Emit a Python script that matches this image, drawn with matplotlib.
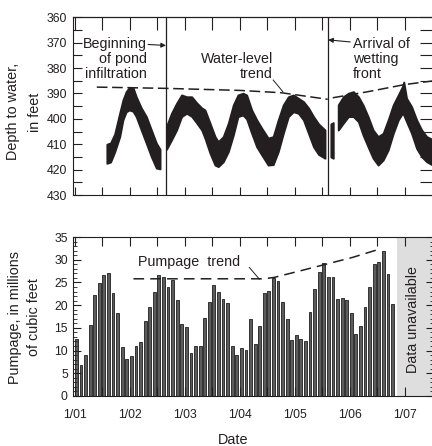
import numpy as np
import matplotlib
matplotlib.use("Agg")
import matplotlib.pyplot as plt
from matplotlib.ticker import MultipleLocator

plt.rcParams["font.family"] = ["Liberation Sans", "DejaVu Sans"]
INK = "#231f20"

# ---------------------------------------------------------------------------
# Data (x positions are months since January 2001)
# ---------------------------------------------------------------------------
pumpage_2001 = [12.6, 6.8, 9.1, 15.6, 22.3, 24.8, 26.7, 27.1, 22.6, 18.3, 10.8, 8.1]
pumpage_2002 = [8.9, 11.1, 11.9, 16.6, 19.5, 22.9, 26.7, 26.3, 23.9, 25.6, 21.1, 15.8]
pumpage_2003 = [15.2, 9.4, 11.0, 11.0, 17.2, 20.6, 24.5, 23.0, 21.4, 20.4, 10.9, 9.1]
pumpage_2004 = [10.6, 10.2, 17.0, 11.5, 15.4, 22.7, 23.1, 26.0, 25.3, 20.8, 17.0, 12.4]
pumpage_2005 = [13.5, 12.6, 12.0, 18.5, 23.6, 27.3, 29.2, 26.1, 26.1, 21.3, 21.6, 21.1]
pumpage_2006 = [18.3, 13.7, 15.4, 19.6, 24.0, 29.0, 29.5, 32.0, 26.8, 20.3]
pumpage = (pumpage_2001 + pumpage_2002 + pumpage_2003 +
           pumpage_2004 + pumpage_2005 + pumpage_2006)

# Depth-to-water record: shallow and deep edges of the daily trace
wl1_month = [7.0, 7.8, 8.7, 9.8, 10.5, 11.2, 11.9, 12.7, 13.4, 14.5, 15.6, 16.7, 17.8, 18.6]
wl1_top = [410.0, 409.5, 406.0, 397.7, 392.6, 389.3, 387.6, 387.7, 391.3, 395.7, 399.1, 404.4, 409.6, 412.0]
wl1_bottom = [417.5, 417.0, 413.0, 407.0, 400.4, 397.2, 396.5, 397.0, 399.1, 404.4, 409.6, 414.9, 419.4, 419.7]

wl2_month = [20.0, 21.1, 22.2, 23.3, 24.4, 25.5, 26.6, 27.7, 28.4, 29.5, 30.6, 31.3, 32.4,
             33.5, 34.6, 35.6, 36.7, 37.5, 38.6, 39.7, 40.8, 42.2, 43.3, 44.4, 45.5,
             46.6, 47.7, 48.8, 49.9, 51.0, 52.1, 53.2, 54.6]
wl2_top = [403.0, 397.8, 393.9, 390.6, 391.3, 391.3, 393.7, 395.7, 396.5, 401.7, 407.0, 409.0, 407.0,
           401.7, 394.5, 390.6, 389.9, 390.6, 396.5, 400.4, 403.7, 407.6, 407.0, 400.4, 394.5,
           391.3, 390.6, 391.9, 393.2, 395.7, 399.1, 402.0, 404.4]
wl2_bottom = [412.0, 408.3, 404.4, 399.1, 397.8, 399.0, 401.6, 404.4, 407.6, 413.5, 418.2, 418.8, 416.9,
              412.9, 406.3, 399.1, 398.5, 400.0, 405.7, 411.0, 414.2, 418.2, 418.0, 412.9, 405.7,
              399.1, 397.2, 397.8, 400.4, 405.7, 411.0, 414.0, 415.5]

wl3_month = [55.9, 56.4]
wl3_top = [402.0, 401.5]
wl3_bottom = [415.0, 415.5]

wl4_month = [57.5, 58.6, 59.7, 60.8, 61.9, 62.9, 64.0, 65.1, 66.2, 67.3, 68.4, 69.5, 70.6,
             71.5, 71.8, 72.4, 73.5, 74.6, 75.7, 76.8, 77.9, 78.4]
wl4_top = [394.5, 391.3, 389.9, 389.3, 391.3, 394.5, 399.1, 404.4, 407.0, 405.7, 400.4, 394.5, 390.6,
           387.3, 385.5, 391.9, 395.2, 400.4, 404.4, 407.0, 408.0, 408.3]
wl4_bottom = [404.4, 401.7, 399.1, 399.1, 401.1, 406.3, 411.0, 415.5, 418.2, 416.2, 412.2, 405.7, 400.4,
              397.8, 398.5, 401.1, 405.7, 411.6, 414.9, 416.9, 418.0, 418.3]

# Trend lines
wl_trend1_month = [4.8, 20.0, 36.0, 45.0, 55.2]
wl_trend1_depth = [387.5, 388.0, 388.8, 389.7, 392.3]
wl_trend2_month = [56.3, 64.0, 72.0, 78.4]
wl_trend2_depth = [391.7, 389.3, 386.5, 385.0]
pump_trend_month = [12.8, 41.3, 43.5, 49.0, 54.8, 60.6, 66.4]
pump_trend_value = [25.8, 25.8, 26.1, 27.5, 29.0, 30.5, 32.3]

pond_infiltration_month = 19.9
wetting_front_month = 55.2
data_gap_start = 70.3

year_ticks = [0, 12, 24, 36, 48, 60, 72]
year_labels = ["1/01", "1/02", "1/03", "1/04", "1/05", "1/06", "1/07"]
half_year_ticks = list(range(0, 73, 6))

# ---------------------------------------------------------------------------
W, H = 432, 446
fig = plt.figure(figsize=(W / 100, H / 100), dpi=100)


def px_rect(x0, y0, x1, y1):
    return [x0 / W, 1 - y1 / H, (x1 - x0) / W, (y1 - y0) / H]


XLIM = (-0.46, 78.4)
ax1 = fig.add_axes(px_rect(72.7, 17.3, 434, 195))
ax2 = fig.add_axes(px_rect(72.7, 237, 434, 396))

for ax in (ax1, ax2):
    ax.set_xlim(*XLIM)
    for s in ax.spines.values():
        s.set_linewidth(0.8)
        s.set_color(INK)

# ---- Upper panel: depth to water ----
ax1.set_ylim(430, 360)
for m, t, b in ((wl1_month, wl1_top, wl1_bottom), (wl2_month, wl2_top, wl2_bottom),
                (wl3_month, wl3_top, wl3_bottom), (wl4_month, wl4_top, wl4_bottom)):
    ax1.fill_between(m, t, b, color=INK, edgecolor=INK, linewidth=1.4, zorder=2)

ax1.plot(wl_trend1_month, wl_trend1_depth, color=INK, lw=1.1, ls=(0, (7, 3)), zorder=3)
ax1.plot(wl_trend2_month, wl_trend2_depth, color=INK, lw=1.1, ls=(0, (7, 3)), zorder=3)
ax1.axvline(pond_infiltration_month, color=INK, lw=0.9, zorder=3)
ax1.axvline(wetting_front_month, color=INK, lw=0.9, zorder=3)

ax1.yaxis.set_major_locator(MultipleLocator(10))
ax1.yaxis.set_minor_locator(MultipleLocator(5))
ax1.tick_params(axis="y", which="both", direction="in", length=6.5, width=0.8,
                color=INK, labelsize=8.8, labelcolor=INK, pad=4)
ax1.set_xticks(half_year_ticks)
ax1.tick_params(axis="x", direction="in", length=5.8, width=0.8, color=INK,
                labelbottom=False)

sec_r1 = ax1.secondary_yaxis("right")
sec_r1.set_yticks(np.arange(360, 431, 5))
sec_r1.tick_params(axis="y", direction="in", length=10, width=0.8, color=INK,
                   labelright=False)
sec_t1 = ax1.secondary_xaxis("top")
sec_t1.set_xticks(half_year_ticks)
sec_t1.tick_params(axis="x", direction="in", length=9, width=0.8, color=INK,
                   labeltop=False)

fs = 10.3
ax1.text(15.8, 372.0, "Beginning", ha="right", va="baseline", fontsize=fs, color=INK)
ax1.text(15.8, 378.1, "of pond", ha="right", va="baseline", fontsize=fs, color=INK)
ax1.text(15.8, 383.8, "infiltration", ha="right", va="baseline", fontsize=fs, color=INK)
ax1.annotate("", xy=(pond_infiltration_month, 371.1), xytext=(16.0, 370.7),
             arrowprops=dict(arrowstyle="-|>", lw=0.8, color=INK, mutation_scale=7,
                             shrinkA=0, shrinkB=0))

ax1.text(43.2, 378.1, "Water-level", ha="right", va="baseline", fontsize=fs, color=INK)
ax1.text(43.2, 384.0, "trend", ha="right", va="baseline", fontsize=fs, color=INK)
ax1.plot([43.3, 45.4], [384.7, 389.3], color=INK, lw=0.7)

ax1.text(60.7, 372.0, "Arrival of", ha="left", va="baseline", fontsize=fs, color=INK)
ax1.text(60.7, 378.1, "wetting", ha="left", va="baseline", fontsize=fs, color=INK)
ax1.text(60.7, 384.0, "front", ha="left", va="baseline", fontsize=fs, color=INK)
ax1.annotate("", xy=(wetting_front_month + 0.1, 368.9), xytext=(60.1, 369.7),
             arrowprops=dict(arrowstyle="-|>", lw=0.8, color=INK, mutation_scale=7,
                             shrinkA=0, shrinkB=0))

# ---- Lower panel: pumpage ----
ax2.set_ylim(0, 35)
ax2.axvspan(data_gap_start, XLIM[1], color="#dedede", lw=0, zorder=0)
months = np.arange(len(pumpage)) + 0.35
ax2.bar(months, pumpage, width=0.62, color="#5c5c5c", edgecolor="#1e1e1e",
        linewidth=0.6, zorder=1)
ax2.plot(pump_trend_month, pump_trend_value, color=INK, lw=1.1, ls=(0, (7, 4)), zorder=3)
ax2.text(13.9, 28.6, "Pumpage  trend", ha="left", va="baseline", fontsize=fs, color=INK)
ax2.plot([38.1, 40.3], [28.3, 25.7], color=INK, lw=0.7)
ax2.text(73.8, 16.8, "Data unavailable", rotation=90, ha="center", va="center",
         fontsize=fs, color=INK)

ax2.yaxis.set_major_locator(MultipleLocator(5))
ax2.yaxis.set_minor_locator(MultipleLocator(1))
ax2.tick_params(axis="y", which="major", direction="in", length=5.8, width=0.8,
                color=INK, labelsize=8.8, labelcolor=INK, pad=3.5, right=True)
ax2.tick_params(axis="y", which="minor", direction="in", length=2.9, width=0.6,
                color=INK, right=True)
ax2.set_xticks(half_year_ticks)
ax2.set_xticklabels([year_labels[year_ticks.index(t)] if t in year_ticks else ""
                     for t in half_year_ticks])
ax2.tick_params(axis="x", direction="in", length=6.5, width=0.8, color=INK, top=True,
                labelsize=8.8, labelcolor=INK, pad=9)

# ---- Axis titles ----
lab = 10.4
fig.text(13.5 / W, 1 - 111 / H, "Depth to water,", rotation=90, ha="center",
         va="center", fontsize=lab, color=INK)
fig.text(35 / W, 1 - 112 / H, "in feet", rotation=90, ha="center", va="center",
         fontsize=lab, color=INK)
fig.text(15 / W, 1 - 317.5 / H, "Pumpage, in millions", rotation=90, ha="center",
         va="center", fontsize=lab, color=INK)
fig.text(34.5 / W, 1 - 317.5 / H, "of cubic feet", rotation=90, ha="center",
         va="center", fontsize=lab, color=INK)
fig.text(233.5 / W, 1 - 440 / H, "Date", ha="center", va="center", fontsize=lab,
         color=INK)

fig.savefig("out.png", dpi=100)
